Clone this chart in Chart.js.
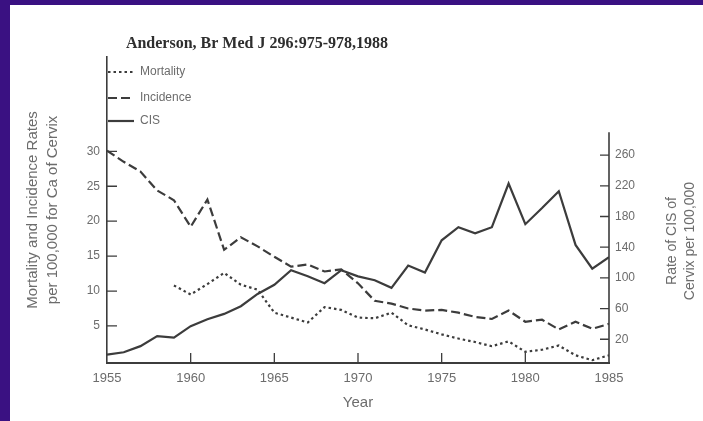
<!DOCTYPE html>
<html>
<head>
<meta charset="utf-8">
<script src="https://cdn.jsdelivr.net/npm/chart.js@4.4.1/dist/chart.umd.min.js"></script>
<style>
  html, body { margin: 0; padding: 0; background: #3a1182; }
  canvas { display: block; }
</style>
</head>
<body>
<canvas id="chart" width="703" height="421"></canvas>
<script>
// Cervical cancer in British Columbia, 1955-1985
const years = [1955, 1956, 1957, 1958, 1959, 1960, 1961, 1962, 1963, 1964,
               1965, 1966, 1967, 1968, 1969, 1970, 1971, 1972, 1973, 1974,
               1975, 1976, 1977, 1978, 1979, 1980, 1981, 1982, 1983, 1984, 1985];

// per 100,000 (left axis)
const mortality = [null, null, null, null, 10.8, 9.5, 11.0, 12.6, 10.9, 10.2,
                   6.9, 6.2, 5.5, 7.7, 7.3, 6.2, 6.1, 6.9, 5.1, 4.5,
                   3.8, 3.2, 2.7, 2.1, 2.8, 1.3, 1.6, 2.2, 0.8, 0.1, 0.8];
const incidence = [30.1, 28.5, 27.1, 24.4, 23.0, 19.2, 23.1, 15.9, 17.7, 16.4,
                   14.9, 13.5, 13.8, 12.8, 13.1, 11.1, 8.6, 8.2, 7.5, 7.2,
                   7.3, 6.9, 6.3, 6.0, 7.2, 5.6, 5.9, 4.5, 5.6, 4.6, 5.3];
// per 100,000 (right axis)
const cis = [0, 3, 11, 24, 22, 37, 46, 53, 63, 79,
             91, 110, 102, 93, 110, 102, 97, 87, 116, 107,
             149, 166, 158, 166, 223, 170, 191, 213, 143, 112, 127];

const seriesNames = ['Mortality', 'Incidence', 'CIS'];
const yearTicks = [1955, 1960, 1965, 1970, 1975, 1980, 1985];
const leftTicks = [5, 10, 15, 20, 25, 30];
const rightTicks = [20, 60, 100, 140, 180, 220, 260];

const titleText = 'Anderson, Br Med J 296:975-978,1988';
const leftAxisTitle = ['Mortality and Incidence Rates', 'per 100,000 for Ca of Cervix'];
const rightAxisTitle = ['Rate of CIS of', 'Cervix per 100,000'];
const xAxisTitle = 'Year';

const INK = '#3c3c3c';
const LABEL = '#6c6c6c';
const SANS = '"Liberation Sans", Arial, sans-serif';
const SERIF = '"Liberation Serif", "Times New Roman", serif';
const RIGHT_AXIS_TOP = 290;   // the right-hand axis line stops here (CIS units)

const toPoints = arr => years.map((y, i) => ({ x: y, y: arr[i] }));

const paperPlugin = {
  id: 'paper',
  beforeDraw(chart) {
    const { ctx, width, height } = chart;
    ctx.save();
    ctx.fillStyle = '#3a1182';
    ctx.fillRect(0, 0, width, height);
    ctx.fillStyle = '#ffffff';
    ctx.fillRect(10, 5, width - 10, height - 5);
    ctx.restore();
  },
  afterDraw(chart) {
    const { ctx, chartArea: ca, scales } = chart;
    const xs = scales.x, yl = scales.yL, yr = scales.yR;
    ctx.save();
    ctx.strokeStyle = INK;
    ctx.lineWidth = 1.3;

    // inward tick marks
    ctx.beginPath();
    yearTicks.forEach(v => {
      if (v === xs.min || v === xs.max) return;
      const px = xs.getPixelForValue(v);
      ctx.moveTo(px, ca.bottom);
      ctx.lineTo(px, ca.bottom - 10);
    });
    leftTicks.forEach(v => {
      const py = yl.getPixelForValue(v);
      ctx.moveTo(ca.left, py);
      ctx.lineTo(ca.left + 10, py);
    });
    rightTicks.forEach(v => {
      const py = yr.getPixelForValue(v);
      ctx.moveTo(ca.right - 9, py);
      ctx.lineTo(ca.right, py);
    });
    ctx.stroke();

    // right-hand axis line
    ctx.lineWidth = 1.6;
    ctx.beginPath();
    ctx.moveTo(ca.right, ca.bottom);
    ctx.lineTo(ca.right, yr.getPixelForValue(RIGHT_AXIS_TOP));
    ctx.stroke();

    // right-hand axis title, reading upwards
    ctx.fillStyle = LABEL;
    ctx.font = '14px ' + SANS;
    ctx.textAlign = 'center';
    ctx.textBaseline = 'middle';
    const midY = (ca.top + ca.bottom) / 2 + 31;
    rightAxisTitle.forEach((line, i) => {
      ctx.save();
      ctx.translate(yr.right - 31 + i * 18, midY);
      ctx.rotate(-Math.PI / 2);
      ctx.fillText(line, 0, 0);
      ctx.restore();
    });

    // heading
    ctx.fillStyle = '#2e2e2e';
    ctx.font = 'bold 16px ' + SERIF;
    ctx.textAlign = 'center';
    ctx.textBaseline = 'middle';
    ctx.fillText(titleText, ca.left + 150, ca.top - 13);

    // key, stacked at the top left of the plot
    const rows = [15, 41, 64];
    chart.data.datasets.forEach((ds, i) => {
      const y = ca.top + rows[i];
      ctx.save();
      ctx.strokeStyle = ds.borderColor;
      ctx.lineWidth = ds.borderWidth;
      ctx.setLineDash(ds.borderDash || []);
      ctx.beginPath();
      ctx.moveTo(ca.left + 1, y);
      ctx.lineTo(ca.left + 27, y);
      ctx.stroke();
      ctx.restore();
      ctx.fillStyle = LABEL;
      ctx.font = '12px ' + SANS;
      ctx.textAlign = 'left';
      ctx.textBaseline = 'middle';
      ctx.fillText(ds.label, ca.left + 33, y);
    });
    ctx.restore();
  }
};

const hiddenGrid = { display: true, drawOnChartArea: false, drawTicks: false };

new Chart(document.getElementById('chart'), {
  type: 'line',
  data: {
    datasets: [
      { label: seriesNames[0], data: toPoints(mortality), yAxisID: 'yL',
        borderColor: INK, borderWidth: 2.2, borderDash: [2.5, 3], pointRadius: 0, tension: 0 },
      { label: seriesNames[1], data: toPoints(incidence), yAxisID: 'yL',
        borderColor: INK, borderWidth: 2.2, borderDash: [9, 4], pointRadius: 0, tension: 0 },
      { label: seriesNames[2], data: toPoints(cis), yAxisID: 'yR',
        borderColor: INK, borderWidth: 2.2, pointRadius: 0, tension: 0 }
    ]
  },
  options: {
    responsive: false,
    animation: false,
    devicePixelRatio: 1,
    layout: { padding: { left: 10, top: 57, right: 0, bottom: 0 } },
    plugins: { legend: { display: false }, tooltip: { enabled: false }, title: { display: false } },
    scales: {
      x: {
        type: 'linear', min: 1955, max: 1985,
        afterBuildTicks: s => { s.ticks = yearTicks.map(v => ({ value: v })); },
        afterFit: s => { s.height = 58; },
        grid: hiddenGrid,
        border: { display: true, color: INK, width: 2 },
        ticks: { color: LABEL, font: { family: SANS, size: 13 }, padding: 8, maxRotation: 0,
                 callback: v => String(v) },
        title: { display: true, text: xAxisTitle, color: LABEL,
                 font: { family: SANS, size: 15, lineHeight: 1.2 }, padding: { top: 0, bottom: 9 } }
      },
      yL: {
        type: 'linear', position: 'left', min: -0.3, max: 43.5,
        afterBuildTicks: s => { s.ticks = leftTicks.map(v => ({ value: v })); },
        afterFit: s => { s.width = 97; },
        grid: hiddenGrid,
        border: { display: true, color: INK, width: 1.6 },
        ticks: { color: LABEL, font: { family: SANS, size: 12 }, padding: 7 },
        title: { display: true, text: leftAxisTitle, color: LABEL,
                 font: { family: SANS, size: 15, lineHeight: '20px' }, padding: { top: 13, bottom: 0 } }
      },
      yR: {
        type: 'linear', position: 'right', min: -11, max: 388,
        afterBuildTicks: s => { s.ticks = rightTicks.map(v => ({ value: v })); },
        afterFit: s => { s.width = 94; },
        grid: hiddenGrid,
        border: { display: false },
        ticks: { color: LABEL, font: { family: SANS, size: 12 }, padding: 6 }
      }
    }
  },
  plugins: [paperPlugin]
});
</script>
</body>
</html>
